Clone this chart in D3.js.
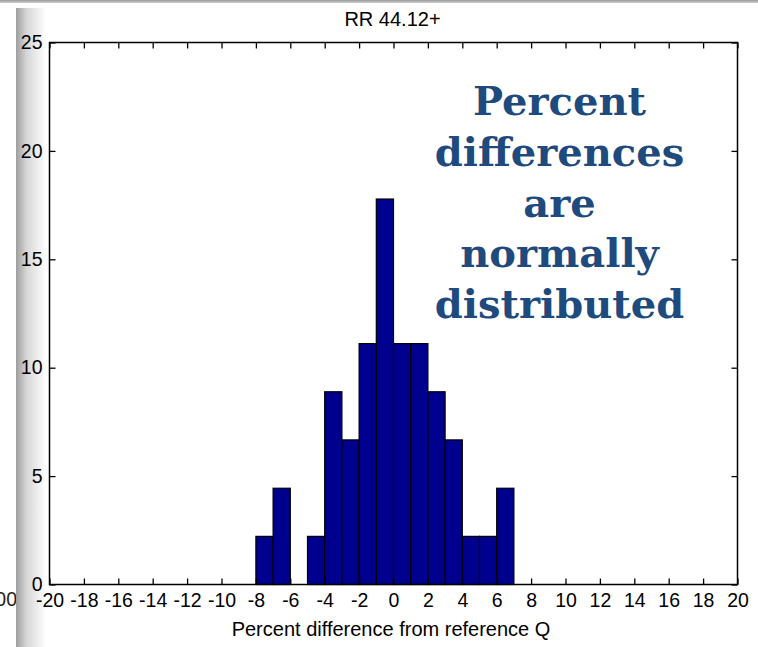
<!DOCTYPE html>
<html>
<head>
<meta charset="utf-8">
<script src="https://cdn.jsdelivr.net/npm/d3@7/dist/d3.min.js"></script>
<style>
  html, body { margin: 0; padding: 0; background: #fff; }
  svg { display: block; }
</style>
</head>
<body>
<svg id="chart" width="758" height="647"></svg>
<script>
// Histogram bins (left edge, width 1) and percentage of samples in each bin
const binStarts = [-8, -7, -6, -5, -4, -3, -2, -1, 0, 1, 2, 3, 4, 5, 6];
const percents = [2.22, 4.44, 0, 2.22, 8.89, 6.67, 11.11, 17.78, 11.11, 11.11, 8.89, 6.67, 2.22, 2.22, 4.44];
const binWidth = 1;

const xTicks = [-20, -18, -16, -14, -12, -10, -8, -6, -4, -2, 0, 2, 4, 6, 8, 10, 12, 14, 16, 18, 20];
const yTicks = [0, 5, 10, 15, 20, 25];

const titleText = "RR 44.12+";
const xLabel = "Percent difference from reference Q";
const noteLines = ["Percent", "differences", "are", "normally", "distributed"];

const svg = d3.select("#chart");
const W = 758, H = 647;
const plotL = 49.5, plotR = 737.5, plotT = 42.5, plotB = 584.5;

const x = d3.scaleLinear().domain([-20, 20]).range([plotL, plotR]);
const y = d3.scaleLinear().domain([0, 25]).range([plotB, plotT]);

// plain hyphen for negative tick labels
const fmt = d => String(d);

// window chrome: top strip and left shaded edge
const defs = svg.append("defs");
const gH = defs.append("linearGradient").attr("id", "edgeShade")
  .attr("x1", "0").attr("x2", "1").attr("y1", "0").attr("y2", "0");
gH.append("stop").attr("offset", "0").attr("stop-color", "#9e9e9e");
gH.append("stop").attr("offset", "0.35").attr("stop-color", "#d6d6d6");
gH.append("stop").attr("offset", "1").attr("stop-color", "#ffffff");
const gV = defs.append("linearGradient").attr("id", "topShade")
  .attr("x1", "0").attr("x2", "0").attr("y1", "0").attr("y2", "1");
gV.append("stop").attr("offset", "0").attr("stop-color", "#9a9a9a");
gV.append("stop").attr("offset", "1").attr("stop-color", "#d0d0d0");

const fontAxis = "Liberation Sans, Arial, sans-serif";
const axisSize = "19.5px";

svg.append("text").attr("x", 17).attr("y", 606)
  .attr("text-anchor", "end")
  .style("font-family", fontAxis)
  .style("font-size", axisSize).attr("fill", "#222")
  .text("00");

svg.append("rect").attr("x", 16).attr("y", 8).attr("width", 30).attr("height", H - 8)
  .attr("fill", "url(#edgeShade)");
svg.append("rect").attr("x", 0).attr("y", 0).attr("width", W).attr("height", 3)
  .attr("fill", "url(#topShade)");

// bars
svg.append("g").selectAll("rect")
  .data(binStarts.map((s, i) => ({ s, v: percents[i] })).filter(d => d.v > 0))
  .join("rect")
  .attr("x", d => x(d.s))
  .attr("width", d => x(d.s + binWidth) - x(d.s))
  .attr("y", d => y(d.v))
  .attr("height", d => y(0) - y(d.v))
  .attr("fill", "#00008f")
  .attr("stroke", "#000")
  .attr("stroke-width", 1.2);

// axes: ticks point inward on all four sides
const axB = svg.append("g").attr("transform", `translate(0,${plotB})`)
  .call(d3.axisBottom(x).tickValues(xTicks).tickSize(-6).tickFormat(fmt));
const axT = svg.append("g").attr("transform", `translate(0,${plotT})`)
  .call(d3.axisTop(x).tickValues(xTicks).tickSize(-6).tickFormat(""));
const axL = svg.append("g").attr("transform", `translate(${plotL},0)`)
  .call(d3.axisLeft(y).tickValues(yTicks).tickSize(-6).tickFormat(fmt));
const axR = svg.append("g").attr("transform", `translate(${plotR},0)`)
  .call(d3.axisRight(y).tickValues(yTicks).tickSize(-6).tickFormat(""));

[axB, axT, axL, axR].forEach(g => {
  g.select(".domain").remove();
  g.selectAll(".tick line").attr("stroke", "#000").attr("stroke-width", 1.3);
  g.selectAll("text")
    .style("font-family", fontAxis)
    .style("font-size", axisSize)
    .attr("fill", "#000");
});
axB.selectAll(".tick text").attr("y", 22.5).attr("dy", 0);
axL.selectAll(".tick text").attr("x", -7);

// plot frame
svg.append("rect").attr("x", plotL).attr("y", plotT)
  .attr("width", plotR - plotL).attr("height", plotB - plotT)
  .attr("fill", "none").attr("stroke", "#000").attr("stroke-width", 1.5);

// title and axis label
svg.append("text").attr("x", 392.5).attr("y", 26)
  .attr("text-anchor", "middle")
  .style("font-family", fontAxis).style("font-size", "20px")
  .text(titleText);
svg.append("text").attr("x", 391).attr("y", 636)
  .attr("text-anchor", "middle")
  .style("font-family", fontAxis).style("font-size", "20px")
  .text(xLabel);

// annotation
svg.append("g").selectAll("text").data(noteLines).join("text")
  .attr("x", 559.5)
  .attr("y", (d, i) => 115 + i * 50.8)
  .attr("text-anchor", "middle")
  .style("font-family", "DejaVu Serif, Georgia, serif")
  .style("font-weight", "bold")
  .style("font-size", "40px")
  .attr("fill", "#1f4a7e")
  .text(d => d);
</script>
</body>
</html>
